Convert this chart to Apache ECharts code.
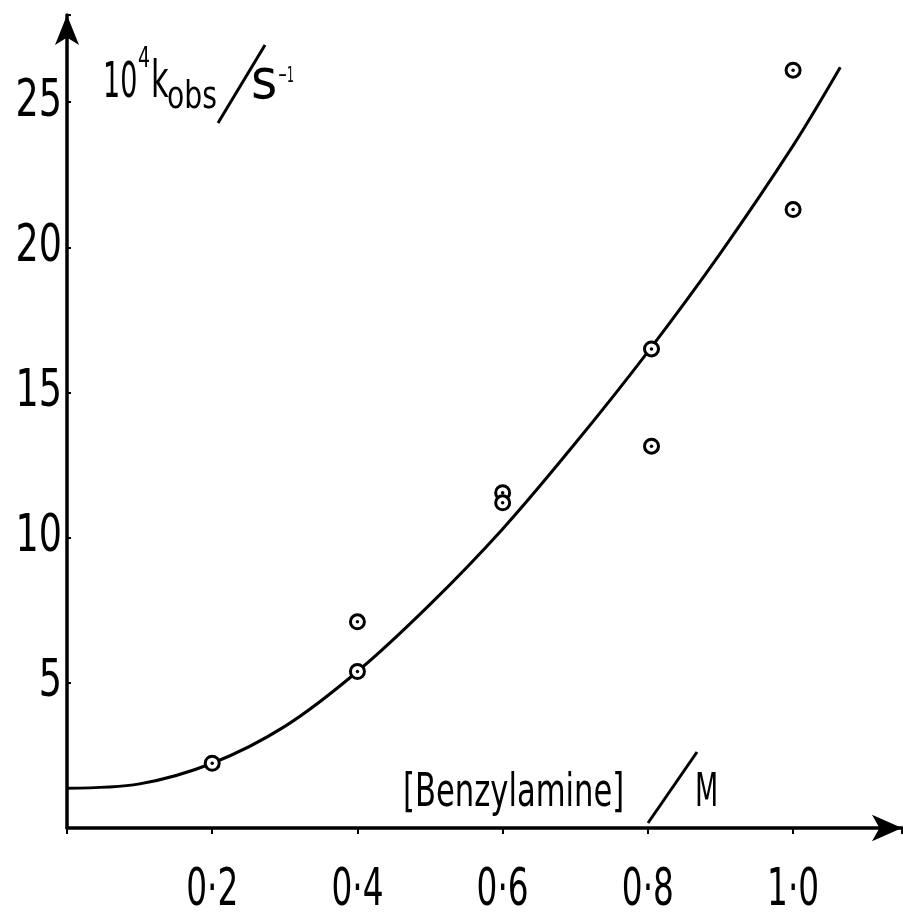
<!DOCTYPE html>
<html>
<head>
<meta charset="utf-8">
<script src="https://cdn.jsdelivr.net/npm/echarts@6/dist/echarts.min.js"></script>
<style>
  html, body { margin: 0; padding: 0; background: #fff; }
  #main { width: 903px; height: 918px; }
</style>
</head>
<body>
<div id="main"></div>
<script>
var myChart = echarts.init(document.getElementById('main'));

var FONT = "'DejaVu Sans Condensed', 'DejaVu Sans', sans-serif";

// measured points: [benzylamine / M, 10^4 kobs / s^-1]
var measured = [
  [0.2, 2.23],
  [0.4, 7.1], [0.4, 5.39],
  [0.6, 11.55], [0.6, 11.2],
  [0.805, 16.5], [0.805, 13.15],
  [1.0, 26.1], [1.0, 21.3]
];

// the hand drawn curve, every 0.1 M
var curve = [
  [0, 1.37], [0.1, 1.52], [0.2, 2.23], [0.3, 3.5], [0.4, 5.39],
  [0.5, 7.7], [0.6, 10.3], [0.7, 13.25], [0.8, 16.4], [0.9, 19.8],
  [1.0, 23.5], [1.065, 26.2]
];

var xTicks = [0.2, 0.4, 0.6, 0.8, 1.0];
var yTicks = [5, 10, 15, 20, 25];

// narrow hand lettering: draw with a condensed face squeezed horizontally
function narrowText(x, y, text, size, sx) {
  return {
    type: 'text', x: x, y: y, scaleX: sx,
    style: { text: text, x: 0, y: 0, align: 'left', verticalAlign: 'top',
             fontSize: size, fontFamily: FONT, fill: '#000' }
  };
}

var option = {
  animation: false,
  backgroundColor: '#fff',
  grid: { left: 67, right: 1, top: 15, bottom: 90 },
  xAxis: {
    type: 'value',
    min: 0, max: 1.15, interval: 0.2,
    splitLine: { show: false },
    axisLine: {
      onZero: false,
      lineStyle: { color: '#000', width: 3.5 },
      symbol: ['none', 'arrow'],
      symbolSize: [20, 30]
    },
    axisTick: { inside: false, length: 6, lineStyle: { color: '#000', width: 2 } },
    axisLabel: { show: false }
  },
  yAxis: {
    type: 'value',
    min: 0, max: 28, interval: 5,
    splitLine: { show: false },
    axisLine: {
      onZero: false,
      lineStyle: { color: '#000', width: 3.5 },
      symbol: ['none', 'arrow'],
      symbolSize: [18, 30]
    },
    axisTick: { inside: true, length: 4, lineStyle: { color: '#000', width: 2 } },
    axisLabel: { show: false }
  },
  graphic: [
    // y axis title: 10^4 k_obs / s^-1
    narrowText(103, 59, '10', 50, 0.6),
    narrowText(138, 46, '4', 28, 0.75),
    narrowText(151, 57, 'k', 52, 0.65),
    narrowText(167, 80, 'obs', 37, 0.85),
    { type: 'line', shape: { x1: 265, y1: 45, x2: 218, y2: 123 }, style: { stroke: '#000', lineWidth: 3 } },
    narrowText(251, 55, 's', 56, 1),
    narrowText(278, 65, '\u22121', 22, 0.55),
    // x axis title: [Benzylamine] / M
    narrowText(403, 771, '[Benzylamine]', 46, 0.74),
    { type: 'line', shape: { x1: 697, y1: 752, x2: 648, y2: 823 }, style: { stroke: '#000', lineWidth: 3 } },
    narrowText(695, 771, 'M', 46, 0.65)
  ],
  series: [
    {
      name: 'curve',
      type: 'line',
      data: curve,
      smooth: 0.33,
      showSymbol: false,
      clip: false,
      lineStyle: { color: '#000', width: 3 },
      z: 2
    },
    {
      name: 'points',
      type: 'scatter',
      data: measured,
      symbol: 'circle',
      symbolSize: 14,
      itemStyle: { color: '#fff', borderColor: '#000', borderWidth: 3, opacity: 1 },
      z: 3
    },
    {
      name: 'centres',
      type: 'scatter',
      data: measured,
      symbol: 'circle',
      symbolSize: 3.5,
      itemStyle: { color: '#000', opacity: 1 },
      z: 4
    },
    {
      // y tick labels, placed through the y axis
      name: 'yLabels',
      type: 'custom',
      data: yTicks.map(function (v) { return [0, v]; }),
      clip: false,
      silent: true,
      renderItem: function (params, api) {
        var p = api.coord([api.value(0), api.value(1)]);
        return {
          type: 'text', x: p[0] - 5, y: p[1], scaleX: 0.78,
          style: { text: String(api.value(1)), x: 0, y: 0, align: 'right', verticalAlign: 'middle',
                   fontSize: 52, fontFamily: FONT, fill: '#000' }
        };
      }
    },
    {
      // x tick labels, placed through the x axis
      name: 'xLabels',
      type: 'custom',
      data: xTicks.map(function (v) { return [v, 0]; }),
      clip: false,
      silent: true,
      renderItem: function (params, api) {
        var p = api.coord([api.value(0), api.value(1)]);
        return {
          type: 'text', x: p[0], y: p[1] + 37, scaleX: 0.7,
          style: { text: api.value(0).toFixed(1).replace('.', '\u00b7'), x: 0, y: 0, align: 'center', verticalAlign: 'top',
                   fontSize: 52, fontFamily: FONT, fill: '#000' }
        };
      }
    }
  ]
};
myChart.setOption(option);
</script>
</body>
</html>
